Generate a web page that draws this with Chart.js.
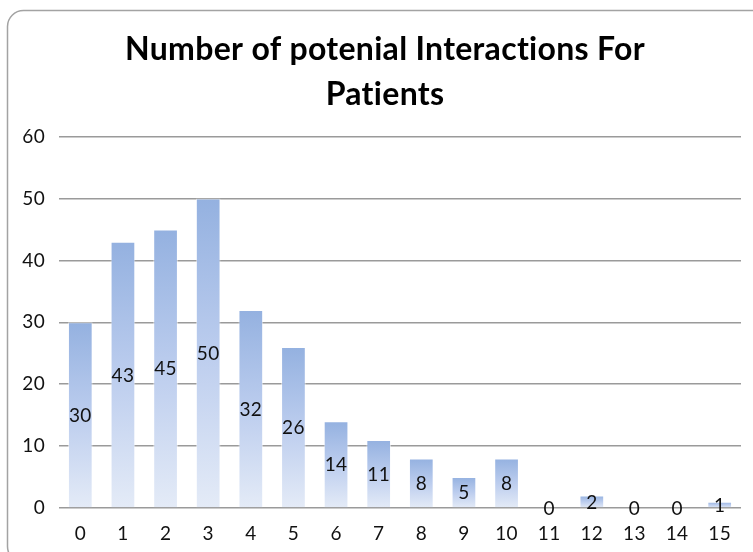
<!DOCTYPE html>
<html>
<head>
<meta charset="utf-8">
<script src="https://cdn.jsdelivr.net/npm/chart.js@4"></script>
<style>
  html, body { margin: 0; padding: 0; background: #fff; }
  #wrap { width: 753px; height: 552px; position: relative; }
</style>
</head>
<body>
<div id="wrap"><canvas id="c" width="753" height="552"></canvas></div>
<script>
// Number of potential interactions (0..15) and patient counts
const categories = ['0','1','2','3','4','5','6','7','8','9','10','11','12','13','14','15'];
const patients = [30, 43, 45, 50, 32, 26, 14, 11, 8, 5, 8, 0, 2, 0, 0, 1];
const titleLines = ['Number of potenial Interactions For', 'Patients'];
const yTicks = { min: 0, max: 60, step: 10 };

// Rounded frame around the whole chart
const framePlugin = {
  id: 'frame',
  beforeDraw(chart) {
    const ctx = chart.ctx;
    // slight tracking keeps "ti" from merging into a ligature
    ctx.letterSpacing = '0.3px';
    ctx.save();
    ctx.fillStyle = '#ffffff';
    ctx.fillRect(0, 0, chart.width, chart.height);
    ctx.strokeStyle = '#a3a3a3';
    ctx.lineWidth = 1.5;
    ctx.beginPath();
    ctx.roundRect(7.5, 10.5, 760, 552, 16);
    ctx.stroke();
    ctx.restore();
  }
};

// Value labels placed in the middle of each bar
const valueLabels = {
  id: 'valueLabels',
  afterDatasetsDraw(chart) {
    const ctx = chart.ctx;
    const meta = chart.getDatasetMeta(0);
    ctx.save();
    ctx.font = '19px Lato';
    ctx.fillStyle = '#111111';
    ctx.textAlign = 'center';
    ctx.textBaseline = 'middle';
    meta.data.forEach((bar, i) => {
      const cy = (bar.y + bar.base) / 2;
      ctx.fillText(String(patients[i]), bar.x, cy + 1);
    });
    ctx.restore();
  }
};

function barGradient(context) {
  const chart = context.chart;
  const y = chart.scales.y;
  if (!chart.chartArea || !y || context.parsed === undefined) return '#b4c7ea';
  const top = y.getPixelForValue(context.parsed.y);
  const base = y.getPixelForValue(0);
  if (!isFinite(top) || !isFinite(base) || Math.abs(base - top) < 1) return '#a9bfe6';
  const g = chart.ctx.createLinearGradient(0, top, 0, base);
  g.addColorStop(0, '#94b1e0');
  g.addColorStop(0.5, '#bccdee');
  g.addColorStop(1, '#e4ebf7');
  return g;
}

new Chart(document.getElementById('c'), {
  type: 'bar',
  data: {
    labels: categories,
    datasets: [{
      data: patients,
      backgroundColor: barGradient,
      borderColor: 'rgba(255,255,255,0.55)',
      borderWidth: 1,
      borderSkipped: 'bottom',
      categoryPercentage: 1.0,
      barPercentage: 0.58
    }]
  },
  options: {
    responsive: false,
    animation: false,
    devicePixelRatio: 1,
    layout: { padding: { left: 17, right: 0, top: 0, bottom: 0 } },
    plugins: {
      legend: { display: false },
      tooltip: { enabled: false },
      title: {
        display: true,
        text: titleLines,
        color: '#000000',
        font: { family: 'Lato', size: 32, weight: 'bold', lineHeight: 1.4 },
        padding: { top: 27, bottom: 20 }
      }
    },
    scales: {
      x: {
        grid: { display: false, drawTicks: false },
        border: { display: false },
        ticks: { color: '#111111', font: { family: 'Lato', size: 19 }, padding: 14 },
        afterFit(scale) { scale.height = 44; }
      },
      y: {
        min: yTicks.min,
        max: yTicks.max,
        border: { display: false },
        grid: { color: '#9a9a9a', lineWidth: 1.5, drawTicks: false },
        ticks: { stepSize: yTicks.step, color: '#111111', font: { family: 'Lato', size: 19 }, padding: 14 },
        afterFit(scale) { scale.width = 42; }
      },
      yRight: {
        position: 'right',
        display: true,
        grid: { display: false },
        border: { display: false },
        ticks: { display: false },
        afterFit(scale) { scale.width = 12; }
      }
    }
  },
  plugins: [framePlugin, valueLabels]
});
</script>
</body>
</html>
